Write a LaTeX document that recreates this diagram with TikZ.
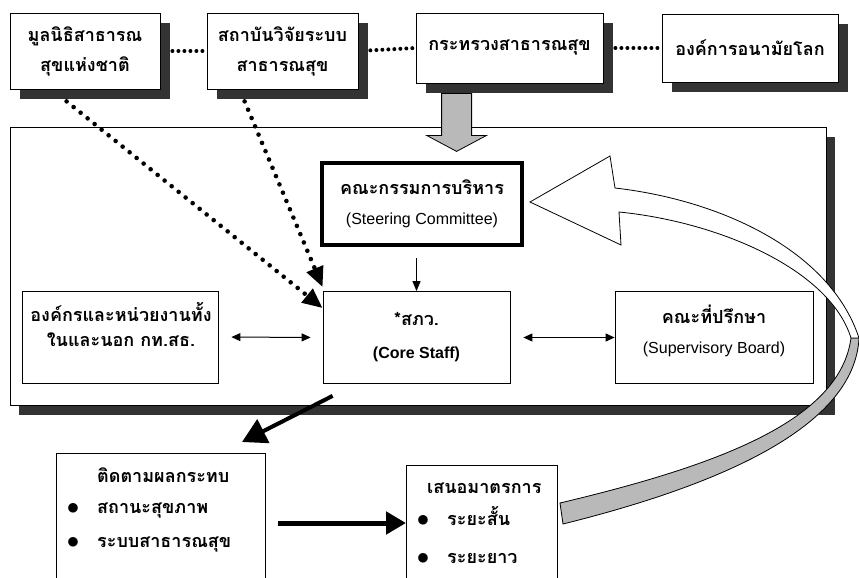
\documentclass[tikz,border=0pt]{standalone}
\usepackage{fontspec}
\newfontfamily\thaifont[Script=Thai]{Loma}
\newfontfamily\latinfont{Liberation Sans}
\newcommand\engtext[1]{{\latinfont\mdseries\fontsize{16}{30}\selectfont #1}}
\usetikzlibrary{arrows.meta,shadows,calc}
\begin{document}
\begin{tikzpicture}[x=1pt,y=-1pt]
\tikzstyle{every node}+=[inner sep=0pt, font=\thaifont\bfseries\fontsize{18}{30}\selectfont]
\tikzstyle{box}=[draw, line width=0.8pt, fill=white, align=center]
\tikzstyle{shadowbox}=[box, drop shadow={shadow xshift=10pt, shadow yshift=-10pt, fill=black!80, opacity=1}]
\tikzstyle{frame}=[draw, line width=0.8pt, fill=white, drop shadow={shadow xshift=9pt, shadow yshift=-10pt, fill=black!80, opacity=1}]
\tikzstyle{dots}=[line width=4pt, dash pattern=on 0pt off 6pt, line cap=round]
\tikzstyle{dotarrow}=[line width=4.6pt, dash pattern=on 0pt off 9pt, line cap=round, -{Triangle[length=20pt,width=17pt]}]
\tikzstyle{twoway}=[line width=1pt, {Triangle[length=9pt,width=8pt]}-{Triangle[length=9pt,width=8pt]}]
\tikzstyle{dot}=[anchor=base, font=\fontsize{26}{26}\selectfont]
\tikzstyle{item}=[anchor=base west]
\useasboundingbox (0,0) rectangle (859,578);
\draw[frame] (10,127) rectangle (826,405);
\node[shadowbox, minimum width=150pt, minimum height=76pt] (mulnithi) at (85,51) {มูลนิธิสาธารณ\\สุขแห่งชาติ};
\node[shadowbox, minimum width=151pt, minimum height=76pt] (sathaban) at (282.5,51) {สถาบันวิจัยระบบ\\สาธารณสุข};
\node[shadowbox, minimum width=187pt, minimum height=70pt] (gov) at (509.5,48) {กระทรวงสาธารณสุข};
\node[shadowbox, minimum width=176pt, minimum height=68pt] (who) at (750,48) {องค์การอนามัยโลก};
\draw[dots, shorten <=12pt] (mulnithi.east) -- (sathaban.west);
\draw[dots, shorten <=12pt] (sathaban.east) -- (gov.west);
\draw[dots, shorten <=12pt] (gov.east) -- (who.west);
\draw[line width=0.8pt, fill=gray!55] ($(gov.south west)+(26,10)$) -- ++(0,42) -- ++(-15,0) -- ++(30,16) -- ++(30,-16) -- ++(-15,0) -- ++(0,-42) -- cycle;
\node[box, line width=3.5pt, minimum width=200pt, minimum height=82pt] (steering) at (422,204) {คณะกรรมการบริหาร\\\engtext{(Steering Committee)}};
\node[box, minimum width=187pt, minimum height=92pt, font=\thaifont\bfseries\fontsize{18}{33}\selectfont] (core) at (416.5,337.5) {*สภว.\\\engtext{\bfseries(Core Staff)}};
\node[box, minimum width=196pt, minimum height=92pt] (partners) at (120,337) {};
\node[align=center] (partnerstxt) at (121,325) {องค์กรและหน่วยงานทั้ง\\[-5pt]ในและนอก กท.สธ.};
\node[box, minimum width=198pt, minimum height=92pt] (advisor) at (714,337.5) {};
\node[align=center] (advisortxt) at (714,331) {คณะที่ปรึกษา\\\engtext{(Supervisory Board)}};
\draw[line width=1pt, shorten <=11pt, -{Triangle[length=10pt,width=8pt]}] (core.north |- steering.south) -- (core.north);
\draw[twoway, shorten <=13pt, shorten >=12pt] (partners.east) -- (core.west);
\draw[twoway, shorten <=13pt] (core.east) -- (advisor.west);
\draw[dotarrow] ($(mulnithi.south west)+(57,12)$) -- ($(core.north west)+(0,17)$);
\draw[dotarrow] ($(sathaban.south west)+(38,12)$) -- ($(core.north west)+(0,-4)$);
\node[box, minimum width=209pt, minimum height=125pt, anchor=north west] (monitor) at (56,453) {};
\node[item] (mon0) at (97,482) {ติดตามผลกระทบ};
\node[dot] (monb1) at (73,514.5) {$\bullet$};
\node[item] (mon1) at (97,513) {สถานะสุขภาพ};
\node[dot] (monb2) at (73,548.5) {$\bullet$};
\node[item] (mon2) at (97,547) {ระบบสาธารณสุข};
\node[box, minimum width=151pt, minimum height=115pt, anchor=north west] (propose) at (406,465) {};
\node[item] (pro0) at (427,493) {เสนอมาตรการ};
\node[dot] (prob1) at (423,526.5) {$\bullet$};
\node[item] (pro1) at (447,525) {ระยะสั้น};
\node[dot] (prob2) at (423,564.5) {$\bullet$};
\node[item] (pro2) at (447,563) {ระยะยาว};
\draw[line width=4pt, -{Triangle[length=24pt,width=26pt]}] ($(core.south west)+(10,12)$) -- ($(monitor.north west)+(186,-11)$);
\draw[line width=5pt, -{Triangle[length=20pt,width=22pt]}] ($(monitor.north east)+(12,70)$) -- ($(propose.north west)+(0,58)$);
\draw[line width=0.8pt, fill=gray!55] (859,338) .. controls (855,420) and (740,480) .. (563,524) -- (560,503) .. controls (720,465) and (840,420) .. (851,338) -- cycle;
\draw[line width=0.8pt, fill=white] (619,212) .. controls (720,222) and (830,270) .. (851,338) -- (859,338) .. controls (830,250) and (720,200) .. (615,188) -- (610,156) -- (530,202) -- (621,245) -- cycle;
\end{tikzpicture}
\end{document}
